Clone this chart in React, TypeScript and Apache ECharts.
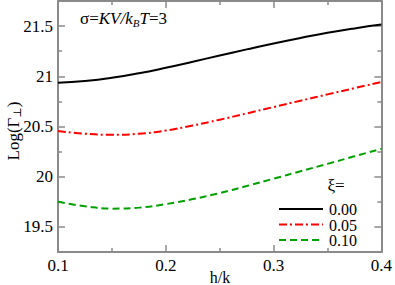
import React, { useEffect, useRef } from "react";
import * as echarts from "echarts";

const hValues = [0.1, 0.125, 0.15, 0.175, 0.2, 0.225, 0.25, 0.275, 0.3, 0.325, 0.35, 0.375, 0.4];
const xi000 = [20.935, 20.953, 20.985, 21.03, 21.085, 21.145, 21.207, 21.268, 21.327, 21.382, 21.433, 21.477, 21.515];
const xi005 = [20.455, 20.428, 20.418, 20.428, 20.46, 20.51, 20.568, 20.63, 20.694, 20.757, 20.82, 20.882, 20.943];
const xi010 = [19.75, 19.706, 19.682, 19.692, 19.727, 19.777, 19.837, 19.907, 19.98, 20.054, 20.128, 20.203, 20.278];
const legendLabels = ["0.00", "0.05", "0.10"];
const xMajor = [0.1, 0.2, 0.3, 0.4];
const xMinor = [0.15, 0.25, 0.35];
const yMajor = [19.5, 20, 20.5, 21, 21.5];
const yMinor = [19.75, 20.25, 20.75, 21.25];

const FONT = "'Liberation Serif', 'Times New Roman', 'DejaVu Serif', serif";
const AX = "#8a8a8a";

export default function App() {
  const ref = useRef<HTMLDivElement>(null);
  useEffect(() => {
    const chart = echarts.init(ref.current!, null, { renderer: "svg" });
    const colors = ["#000000", "#ff0000", "#00a000"];
    const dashes: any[] = ["solid", [8, 3, 2, 3], [7, 4]];
    const seriesData = [xi000, xi005, xi010];
    const yBase = { type: "value", min: 19.25, max: 21.75, splitLine: { show: false } };
    const xBase = { type: "value", min: 0.1, max: 0.4, splitLine: { show: false } };
    const tickStyle = { color: AX, width: 1.5 };
    const labelStyle = { fontFamily: FONT, fontSize: 17, color: "#000" };
    const option: any = {
      animation: false,
      textStyle: { fontFamily: FONT },
      grid: { left: 58, right: 12, top: 1, bottom: 33 },
      xAxis: [
        { ...xBase, position: "bottom", axisLine: { show: true, lineStyle: { color: AX, width: 2 } },
          axisTick: { inside: true, length: 7, customValues: xMajor, lineStyle: tickStyle },
          axisLabel: { ...labelStyle, customValues: xMajor, margin: 5, showMaxLabel: true, showMinLabel: true } },
        { ...xBase, position: "bottom", axisLine: { show: false },
          axisTick: { inside: true, length: 4, customValues: xMinor, lineStyle: tickStyle }, axisLabel: { show: false } },
        { ...xBase, position: "top", axisLine: { show: true, lineStyle: { color: AX, width: 2 } },
          axisTick: { inside: true, length: 7, customValues: xMajor, lineStyle: tickStyle }, axisLabel: { show: false } },
        { ...xBase, position: "top", axisLine: { show: false },
          axisTick: { inside: true, length: 4, customValues: xMinor, lineStyle: tickStyle }, axisLabel: { show: false } },
      ],
      yAxis: [
        { ...yBase, position: "left", axisLine: { show: true, lineStyle: { color: AX, width: 2 } },
          axisTick: { inside: true, length: 7, customValues: yMajor, lineStyle: tickStyle },
          axisLabel: { ...labelStyle, customValues: yMajor, margin: 5 } },
        { ...yBase, position: "left", axisLine: { show: false },
          axisTick: { inside: true, length: 4, customValues: yMinor, lineStyle: tickStyle }, axisLabel: { show: false } },
        { ...yBase, position: "right", axisLine: { show: true, lineStyle: { color: AX, width: 2 } },
          axisTick: { inside: true, length: 7, customValues: yMajor, lineStyle: tickStyle }, axisLabel: { show: false } },
        { ...yBase, position: "right", axisLine: { show: false },
          axisTick: { inside: true, length: 4, customValues: yMinor, lineStyle: tickStyle }, axisLabel: { show: false } },
      ],
      series: seriesData.map((vals, i) => ({
        type: "line",
        name: legendLabels[i],
        xAxisIndex: 0,
        yAxisIndex: 0,
        smooth: true,
        showSymbol: false,
        data: hValues.map((h, j) => [h, vals[j]]),
        lineStyle: { color: colors[i], width: 2, type: dashes[i] },
        z: 3,
      })),
      graphic: [
        {
          type: "text", x: 80, y: 8,
          style: {
            text: "{n|σ=}{i|KV/k}{s|B}{i|T}{n|=3}",
            rich: {
              n: { fontFamily: FONT, fontSize: 17, fill: "#000" },
              i: { fontFamily: FONT, fontSize: 17, fontStyle: "italic", fill: "#000" },
              s: { fontFamily: FONT, fontSize: 11, fontStyle: "italic", fill: "#000", padding: [9, 0, 0, 0] },
            },
          },
        },
        {
          type: "text", x: 13, y: 131, rotation: Math.PI / 2,
          style: {
            text: "{n|Log(Γ}{s|⊥}{n|)}",
            align: "center", verticalAlign: "middle",
            rich: {
              n: { fontFamily: FONT, fontSize: 17, fill: "#000" },
              s: { fontFamily: FONT, fontSize: 11, fill: "#000", padding: [8, 0, 0, 0] },
            },
          },
        },
        {
          type: "text", x: 220, y: 277,
          style: { text: "h/k", fontFamily: FONT, fontSize: 16, fill: "#000", align: "center", verticalAlign: "middle" },
        },
        {
          type: "text", x: 336, y: 185,
          style: { text: "ξ=", fontFamily: FONT, fontSize: 17, fill: "#000", align: "center", verticalAlign: "middle", lineHeight: 15 },
        },
        ...legendLabels.flatMap((lab, i) => {
          const y = 209 + i * 15.5;
          return [
            { type: "line", shape: { x1: 279, y1: y, x2: 323, y2: y },
              style: { stroke: colors[i], lineWidth: 2, lineDash: dashes[i] === "solid" ? null : dashes[i] } },
            { type: "text", x: 329, y: y + 0.5,
              style: { text: lab, fontFamily: FONT, fontSize: 16, lineHeight: 15, fill: "#000", align: "left", verticalAlign: "middle" } },
          ];
        }),
      ],
    };
    chart.setOption(option);
    return () => chart.dispose();
  }, []);
  return <div ref={ref} style={{ width: 395, height: 285, position: "absolute", left: 0, top: 0 }} />;
}
